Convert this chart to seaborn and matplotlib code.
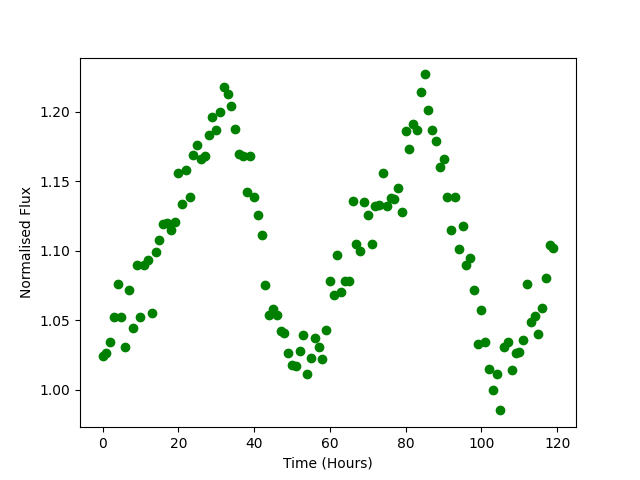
import matplotlib
matplotlib.use("Agg")
import matplotlib.pyplot as plt
import seaborn as sns
import pandas as pd
import numpy as np

hours = list(range(120))
flux = [
    1.024, 1.026, 1.034, 1.052, 1.076, 1.052, 1.031, 1.072, 1.044, 1.090,
    1.052, 1.090, 1.093, 1.055, 1.099, 1.108, 1.119, 1.120, 1.115, 1.121,
    1.156, 1.134, 1.158, 1.139, 1.169, 1.176, 1.166, 1.168, 1.183, 1.196,
    1.187, 1.200, 1.218, 1.213, 1.204, 1.188, 1.170, 1.168, 1.142, 1.168,
    1.139, 1.126, 1.111, 1.075, 1.054, 1.058, 1.054, 1.042, 1.041, 1.026,
    1.018, 1.017, 1.028, 1.039, 1.011, 1.023, 1.037, 1.031, 1.022, 1.043,
    1.078, 1.068, 1.097, 1.070, 1.078, 1.078, 1.136, 1.105, 1.100, 1.135,
    1.126, 1.105, 1.132, 1.133, 1.156, 1.132, 1.138, 1.137, 1.145, 1.128,
    1.186, 1.173, 1.191, 1.187, 1.214, 1.227, 1.201, 1.187, 1.179, 1.160,
    1.166, 1.139, 1.115, 1.139, 1.101, 1.118, 1.090, 1.095, 1.072, 1.033,
    1.057, 1.034, 1.015, 1.000, 1.011, 0.985, 1.031, 1.034, 1.014, 1.026,
    1.027, 1.036, 1.076, 1.049, 1.053, 1.040, 1.059, 1.080, 1.104, 1.102,
]

df = pd.DataFrame({"Time (Hours)": hours, "Normalised Flux": flux})

fig, ax = plt.subplots(figsize=(6.4, 4.8), dpi=100)
sns.scatterplot(data=df, x="Time (Hours)", y="Normalised Flux", ax=ax,
                color="green", edgecolor="green", linewidth=1, s=36)
ax.set_xlabel("Time (Hours)")
ax.set_ylabel("Normalised Flux")
fig.savefig("out.png", dpi=100)
